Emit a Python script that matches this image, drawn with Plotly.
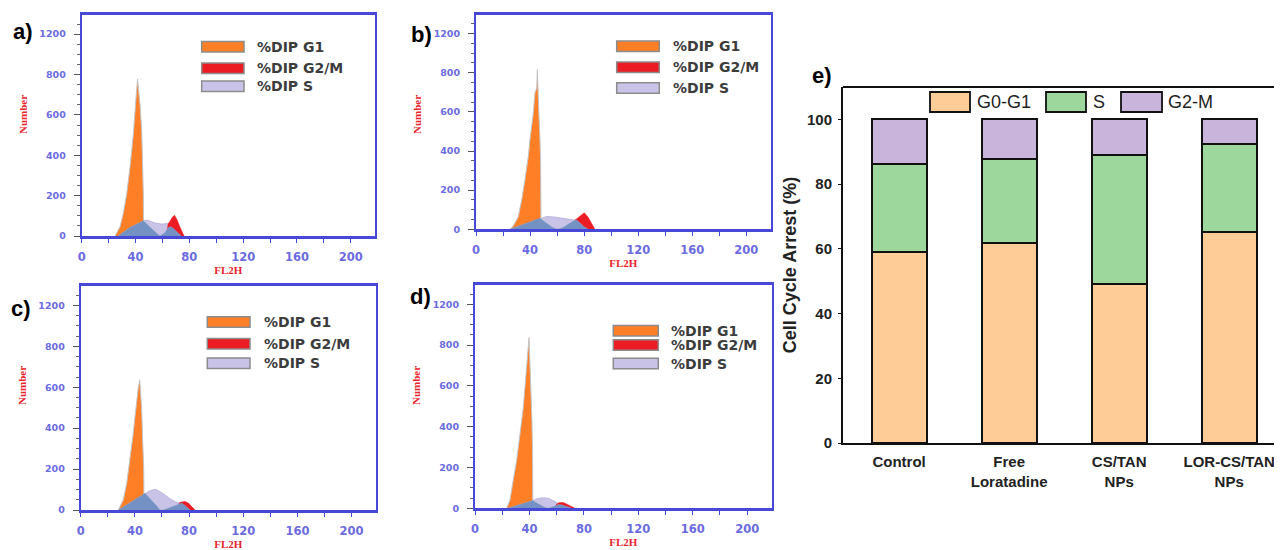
import plotly.graph_objects as go

# ---------------- data ----------------
# panel a
a_g1_x = [24.8, 28.5, 30.9, 33.5, 35.9, 38.4, 40.4, 41.5, 42.2, 43.3, 44.6, 45.2, 45.8, 46.0]
a_g1_y = [0, 46, 112, 210, 342, 506, 686, 777, 728, 655, 522, 377, 209, 0]
a_s_x = [27.0, 35.9, 45.8, 48.3, 50.8, 54.5, 59.7, 64.2, 67.2, 70.9, 73.2, 76.1]
a_s_y = [0, 42, 75, 79, 74, 65, 59, 63, 59, 38, 17, 0]
a_g2_x = [63.0, 64.2, 65.7, 67.2, 69.0, 70.9, 73.2, 75.3, 76.1]
a_g2_y = [0, 59, 74, 92, 103, 80, 42, 7, 0]
a_ov_x = [27.0, 35.9, 45.8, 49.0, 52.5, 55.5, 58.2, 62.0, 64.5, 66.0, 68.0, 71.0, 74.0]
a_ov_y = [0, 42, 75, 54, 33, 15, 0, 17, 42, 46, 38, 21, 0]

# panel b
b_g1_x = [25.5, 27.6, 31.3, 33.8, 36.2, 38.7, 39.9, 41.2, 42.4, 43.6, 44.9, 45.4, 45.8, 46.3, 47.3, 47.8, 48.1]
b_g1_y = [0, 17, 64, 150, 253, 373, 458, 526, 595, 697, 723, 817, 693, 629, 466, 338, 0]
b_s_x = [25.1, 36.2, 47.3, 50.0, 52.3, 58.0, 64.6, 70.0, 73.2, 76.2, 80.1, 84.0, 87.0]
b_s_y = [0, 27, 57, 63, 66, 63, 57, 51, 47, 38, 25, 8, 0]
b_g2_x = [72.0, 73.2, 76.2, 78.5, 80.1, 82.8, 85.0, 86.8, 88.0]
b_g2_y = [0, 47, 63, 78, 85, 63, 34, 8, 0]
b_ov_x = [25.1, 36.2, 47.3, 50.0, 53.0, 56.5, 60.0, 64.0, 68.0, 72.0, 74.5, 77.0, 80.0, 83.0]
b_ov_y = [0, 27, 57, 42, 25, 10, 0, 8, 25, 42, 47, 30, 13, 0]

# panel c
c_g1_x = [27.8, 31.4, 34.0, 36.4, 38.8, 40.1, 41.3, 42.5, 43.6, 44.0, 45.0, 45.8, 46.5, 46.8]
c_g1_y = [0, 49, 131, 245, 376, 457, 539, 597, 637, 605, 490, 327, 211, 0]
c_s_x = [27.8, 36.4, 47.5, 51.2, 54.9, 57.3, 61.0, 63.5, 66.0, 69.6, 72.8, 74.6, 77.0, 79.2, 81.0]
c_s_y = [0, 35, 82, 95, 101, 95, 80, 65, 55, 41, 35, 33, 25, 10, 0]
c_g2_x = [71.5, 72.8, 74.6, 77.0, 79.5, 82.0, 84.4]
c_g2_y = [0, 35, 39, 42, 34, 17, 0]
c_ov_x = [27.8, 36.4, 47.5, 50.0, 53.0, 56.0, 58.5, 61.0, 65.0, 70.0, 74.6, 76.5, 79.0, 80.7]
c_ov_y = [0, 35, 82, 63, 44, 21, 0, 0, 10, 24, 33, 25, 8, 0]

# panel d
d_g1_x = [23.3, 25.7, 28.1, 30.6, 33.1, 35.5, 36.7, 38.0, 39.2, 39.7, 40.2, 41.1, 41.9, 42.3, 42.5]
d_g1_y = [0, 40, 138, 235, 366, 495, 593, 707, 796, 837, 739, 593, 419, 251, 0]
d_s_x = [24.0, 33.1, 42.4, 46.3, 50.2, 54.0, 57.3, 61.2, 64.9, 68.3, 72.0]
d_s_y = [0, 18, 38, 48, 52, 49, 38, 25, 17, 7, 0]
d_g2_x = [58.5, 60.0, 62.0, 64.9, 68.3, 71.0, 73.5]
d_g2_y = [0, 21, 28, 28, 18, 7, 0]
d_ov_x = [24.0, 33.1, 42.4, 45.0, 48.0, 51.0, 53.9, 57.3, 61.2, 63.0, 66.0, 69.0, 71.0]
d_ov_y = [0, 18, 38, 27, 15, 5, 0, 8, 18, 18, 10, 3, 0]

# panel e (stacked %)
bar_categories = ["Control", "Free<br>Loratadine", "CS/TAN<br>NPs", "LOR-CS/TAN<br>NPs"]
bar_g0g1 = [58.9, 61.7, 49.2, 65.3]
bar_s = [27.4, 26.1, 39.8, 27.0]
bar_g2m = [13.7, 12.2, 11.0, 7.7]

hist_xticks = [0, 40, 80, 120, 160, 200]
hist_ytick_vals = [0, 200, 400, 600, 800, 1000]
hist_ytick_text = ["0", "200", "400", "600", "800", "1200"]   # as printed in the source figure
bar_yticks = [0, 20, 40, 60, 80, 100]
hist_legend_labels = ["%DIP G1", "%DIP G2/M", "%DIP S"]
bar_legend_labels = ["G0-G1", "S", "G2-M"]

# ---------------- style ----------------
OFF = 8                      # page body margin of the browser
W, H = 1282 - OFF, 550 - OFF
def PX(v):
    return (v - OFF) / W
def PY(v):
    return 1 - (v - OFF) / H

ORANGE = '#FF7F27'
RED = '#EC1C24'
LAV = '#CAC3E8'
STEEL = '#7391C2'
FRAME = '#4848D8'
TICKTXT = '#6B6BE0'
LABRED = '#E8262B'
C_G0 = '#FECC96'
C_S = '#9DD79B'
C_G2 = '#C9B4DB'

fig = go.Figure()

panels = [
    dict(n=1, letter='a)', lpos=(23, 32), npos=(23, 115), dx=(81.7, 375.0), dy=(15.0, 236.0),
         g1=(a_g1_x, a_g1_y), s=(a_s_x, a_s_y), g2=(a_g2_x, a_g2_y), ov=(a_ov_x, a_ov_y),
         leg=(201.7, 244.0, [46.7, 68.3, 86.2], 255.0)),
    dict(n=2, letter='b)', lpos=(421, 35), npos=(417, 115), dx=(476.0, 770.7), dy=(15.0, 229.3),
         g1=(b_g1_x, b_g1_y), s=(b_s_x, b_s_y), g2=(b_g2_x, b_g2_y), ov=(b_ov_x, b_ov_y),
         leg=(616.7, 659.3, [46.2, 67.2, 88.0], 670.7)),
    dict(n=3, letter='c)', lpos=(21, 308), npos=(22, 386), dx=(80.7, 376.0), dy=(286.0, 510.0),
         g1=(c_g1_x, c_g1_y), s=(c_s_x, c_s_y), g2=(c_g2_x, c_g2_y), ov=(c_ov_x, c_ov_y),
         leg=(207.3, 250.0, [322.0, 343.7, 363.2], 261.7)),
    dict(n=4, letter='d)', lpos=(420, 296), npos=(416, 386), dx=(475.0, 771.7), dy=(285.0, 508.3),
         g1=(d_g1_x, d_g1_y), s=(d_s_x, d_s_y), g2=(d_g2_x, d_g2_y), ov=(d_ov_x, d_ov_y),
         leg=(613.3, 658.3, [330.8, 345.0, 363.5], 669.3)),
]

layout_axes = {}
shapes = []
annotations = []

for p in panels:
    n = p['n']
    xa = 'x' if n == 1 else f'x{n}'
    ya = 'y' if n == 1 else f'y{n}'
    common = dict(xaxis=xa, yaxis=ya, mode='lines', fill='tozeroy', showlegend=False, hoverinfo='skip')
    fig.add_trace(go.Scatter(x=p['s'][0], y=p['s'][1], fillcolor=LAV,
                             line=dict(color='#B8B0DA', width=0.8), **common))
    fig.add_trace(go.Scatter(x=p['g1'][0], y=p['g1'][1], fillcolor=ORANGE,
                             line=dict(color='#C4C4C4', width=1), **common))
    fig.add_trace(go.Scatter(x=p['g2'][0], y=p['g2'][1], fillcolor=RED,
                             line=dict(color=RED, width=0.5), **common))
    fig.add_trace(go.Scatter(x=p['ov'][0], y=p['ov'][1], fillcolor=STEEL,
                             line=dict(color='#8AA2CC', width=0.6), **common))

    xkey = 'xaxis' if n == 1 else f'xaxis{n}'
    ykey = 'yaxis' if n == 1 else f'yaxis{n}'
    layout_axes[xkey] = dict(
        domain=[PX(p['dx'][0]), PX(p['dx'][1])], range=[0, 218], anchor=ya,
        tickmode='array', tickvals=hist_xticks, ticks='outside', ticklen=4,
        tickcolor=FRAME, tickwidth=1.2,
        minor=dict(tick0=0, dtick=20, ticks='outside', ticklen=4, tickcolor=FRAME, tickwidth=1.2),
        showline=True, linecolor=FRAME, linewidth=2.5, mirror=True,
        showgrid=False, zeroline=False, automargin=False, ticklabelstandoff=4,
        tickfont=dict(family='DejaVu Sans', size=11.5, color=TICKTXT, weight='bold'),
        title=dict(text='FL2H', standoff=4,
                   font=dict(family='Liberation Serif', size=11, color=LABRED, weight='bold')),
    )
    layout_axes[ykey] = dict(
        domain=[PY(p['dy'][1]), PY(p['dy'][0])], range=[0, 1095], anchor=xa,
        tickmode='array', tickvals=hist_ytick_vals, ticktext=hist_ytick_text,
        ticks='outside', ticklen=6, tickcolor='#555555', tickwidth=1.2,
        minor=dict(tick0=0, dtick=50, ticks='outside', ticklen=3, tickcolor='#666666', tickwidth=1),
        showline=True, linecolor=FRAME, linewidth=2, mirror=True,
        showgrid=False, zeroline=False, automargin=False, ticklabelstandoff=6,
        tickfont=dict(family='DejaVu Sans', size=9.5, color=TICKTXT, weight='bold'),
    )
    # y-axis title "Number" (placed where the source figure has it)
    annotations.append(dict(xref='paper', yref='paper', x=PX(p['npos'][0]), y=PY(p['npos'][1]),
                            xanchor='center', yanchor='middle', showarrow=False, text='Number',
                            textangle=-90,
                            font=dict(family='Liberation Serif', size=11, color=LABRED, weight='bold')))

    # legend (manual, inside panel)
    bx0, bx1, ycs, tx = p['leg']
    for col, yc, lab in zip([ORANGE, RED, LAV], ycs, hist_legend_labels):
        shapes.append(dict(type='rect', xref='paper', yref='paper',
                           x0=PX(bx0), x1=PX(bx1), y0=PY(yc + 5.3), y1=PY(yc - 5.3),
                           fillcolor=col, line=dict(color='#8C8C8C', width=1.5)))
        annotations.append(dict(xref='paper', yref='paper', x=PX(tx), y=PY(yc),
                                xanchor='left', yanchor='middle', showarrow=False, text=lab,
                                font=dict(family='DejaVu Sans', size=14, color='#3C3C3C', weight='bold')))
    annotations.append(dict(xref='paper', yref='paper', x=PX(p['lpos'][0]), y=PY(p['lpos'][1]),
                            xanchor='center', yanchor='middle', showarrow=False, text=p['letter'],
                            font=dict(family='Liberation Sans', size=22, color='black', weight='bold')))

# ---------------- panel e ----------------
for vals, col, name in [(bar_g0g1, C_G0, bar_legend_labels[0]),
                        (bar_s, C_S, bar_legend_labels[1]),
                        (bar_g2m, C_G2, bar_legend_labels[2])]:
    fig.add_trace(go.Bar(x=bar_categories, y=vals, name=name, width=0.5,
                         marker=dict(color=col, line=dict(color='#111111', width=1.8)),
                         xaxis='x5', yaxis='y5', showlegend=False, hoverinfo='skip'))

layout_axes['xaxis5'] = dict(
    domain=[PX(843), 1.0], range=[-0.51, 3.48], anchor='y5', type='category',
    showline=True, linecolor='#111111', linewidth=2, ticks='', showgrid=False,
    zeroline=False, automargin=False, ticklabelstandoff=4,
    tickfont=dict(family='Liberation Sans', size=15, color='#222222', weight='bold'),
)
layout_axes['yaxis5'] = dict(
    domain=[PY(443), PY(87)], range=[0, 110], anchor='x5',
    tickmode='array', tickvals=bar_yticks, ticks='outside', ticklen=3, tickcolor='#111111',
    showline=True, linecolor='#111111', linewidth=2, showgrid=False, zeroline=False,
    automargin=False, ticklabelstandoff=3,
    tickfont=dict(family='Liberation Sans', size=15, color='#222222', weight='bold'),
    title=dict(text='Cell Cycle Arrest (%)', standoff=6,
               font=dict(family='Liberation Sans', size=18, color='#222222', weight='bold')),
)
# top border of panel e
shapes.append(dict(type='line', xref='paper', yref='paper', x0=PX(843), x1=1.0,
                   y0=PY(87), y1=PY(87), line=dict(color='#111111', width=2)))
# legend of panel e
for (bx0, bx1, tx), col, lab in zip([(930, 970, 975), (1046, 1086, 1091), (1121, 1162, 1166)],
                                     [C_G0, C_S, C_G2], bar_legend_labels):
    shapes.append(dict(type='rect', xref='paper', yref='paper', x0=PX(bx0), x1=PX(bx1),
                       y0=PY(112), y1=PY(92), fillcolor=col, line=dict(color='#111111', width=1.8)))
    annotations.append(dict(xref='paper', yref='paper', x=PX(tx), y=PY(102), xanchor='left',
                            yanchor='middle', showarrow=False, text=lab,
                            font=dict(family='Liberation Sans', size=18, color='#222222')))
annotations.append(dict(xref='paper', yref='paper', x=PX(822), y=PY(76), xanchor='center',
                        yanchor='middle', showarrow=False, text='e)',
                        font=dict(family='Liberation Sans', size=22, color='black', weight='bold')))

fig.update_layout(
    width=W, height=H, margin=dict(l=0, r=0, t=0, b=0),
    paper_bgcolor='white', plot_bgcolor='white', barmode='stack', bargap=0.5,
    shapes=shapes, annotations=annotations, showlegend=False,
    **layout_axes,
)

fig.write_html("out.html")
